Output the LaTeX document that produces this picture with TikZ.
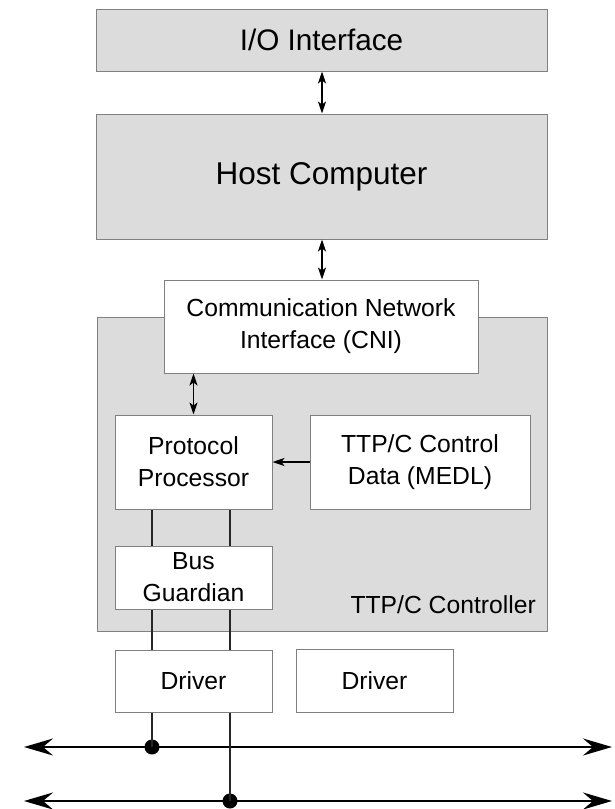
\documentclass[tikz,border=0pt]{standalone}
\usepackage{fontspec}
\setmainfont{Liberation Sans}
\usetikzlibrary{arrows.meta}
\definecolor{boxgray}{RGB}{220,220,220}
\definecolor{edgegray}{RGB}{128,128,128}
\begin{document}
\begin{tikzpicture}[x=1pt,y=-1pt,
  box/.style={draw=edgegray,line width=1pt,inner sep=0pt,align=center,font=\fontsize{24.7}{32}\selectfont},
  graybox/.style={box,fill=boxgray},
  whitebox/.style={box,fill=white},
  smallhead/.tip={Stealth[length=12pt,width=8pt,inset=3pt]},
  bighead/.tip={Stealth[length=29pt,width=17pt,inset=10pt]},
  dblarrow/.style={line width=1.5pt,smallhead-smallhead},
  onearrow/.style={line width=1.5pt,-smallhead},
  wire/.style={line width=2pt,draw=black!85},
  bus/.style={line width=2pt,bighead-bighead},
  dot/.style={circle,fill=black,inner sep=0pt,minimum size=15pt}
]
\useasboundingbox (0,0) rectangle (615,809);

\node[graybox,minimum width=451pt,minimum height=62pt,font=\fontsize{29.7}{36}\selectfont] (io) at (321.5,40) {I/O Interface};
\node[graybox,minimum width=451pt,minimum height=125pt,font=\fontsize{31.5}{38}\selectfont] (host) at (321.5,176.5) {Host Computer};

\node[graybox,minimum width=450pt,minimum height=314pt] (ctrl) at (322,474) {};
\node[anchor=base east,inner sep=0pt,font=\fontsize{24.7}{32}\selectfont] (ctrllabel) at (536,613) {TTP/C Controller};

\node[whitebox,minimum width=314pt,minimum height=93pt] (cni) at (321,326.5) {Communication Network\\Interface (CNI)};
\node[whitebox,minimum width=157pt,minimum height=94pt] (pp) at (193.5,462) {Protocol\\Processor};
\node[whitebox,minimum width=220pt,minimum height=94pt] (medl) at (420,462) {TTP/C Control\\Data (MEDL)};
\node[whitebox,minimum width=157pt,minimum height=63pt] (bg) at (193.5,577.5) {Bus\\Guardian};
\node[whitebox,minimum width=157pt,minimum height=62pt] (drv1) at (193.5,681) {Driver};
\node[whitebox,minimum width=157pt,minimum height=63pt] (drv2) at (374.5,680.5) {Driver};

\draw[dblarrow] ([xshift=0.5pt]io.south) -- ([xshift=0.5pt]host.north);
\draw[dblarrow] ([xshift=0.5pt]host.south) -- ([xshift=1pt]cni.north);
\draw[dblarrow] (cni.south -| pp.north) -- (pp.north);
\draw[onearrow] (medl.west) -- (pp.east);

\draw[wire] ([xshift=-41.5pt]pp.south) -- ([xshift=-41.5pt]bg.north);
\draw[wire] ([xshift=36.5pt]pp.south) -- ([xshift=36.5pt]bg.north);
\draw[wire] ([xshift=-41.5pt]bg.south) -- ([xshift=-41.5pt]drv1.north);
\draw[wire] ([xshift=36.5pt]bg.south) -- ([xshift=36.5pt]drv1.north);

\coordinate (b1l) at (24,747);
\coordinate (b1r) at (612,747);
\coordinate (b2l) at (24,801);
\coordinate (b2r) at (612,801);
\draw[bus] (b1l) -- (b1r);
\draw[bus] (b2l) -- (b2r);

\node[dot] (d1) at (152,747) {};
\node[dot] (d2) at (230,801) {};
\draw[wire] ([xshift=-41.5pt]drv1.south) -- (d1.center);
\draw[wire] ([xshift=36.5pt]drv1.south) -- (d2.center);
\end{tikzpicture}
\end{document}
